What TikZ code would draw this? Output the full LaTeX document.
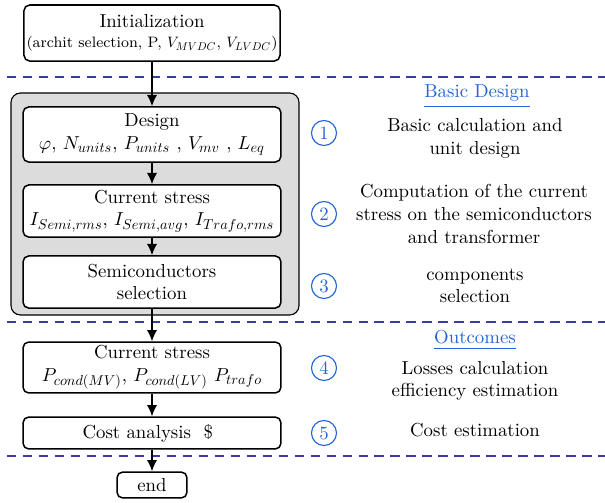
\documentclass[tikz,border=0pt]{standalone}
\usetikzlibrary{arrows.meta}
\DeclareFontFamily{OML}{cmmx}{\skewchar\font'177}
\DeclareFontShape{OML}{cmmx}{m}{it}{<->cmmi10}{}
\DeclareFontFamily{OT1}{cmrx}{\hyphenchar\font45 }
\DeclareFontShape{OT1}{cmrx}{m}{n}{<->cmr10}{}
\DeclareSymbolFont{letters}{OML}{cmmx}{m}{it}
\DeclareSymbolFont{operators}{OT1}{cmrx}{m}{n}
\DeclareMathSizes{10}{10}{7.6}{5.5}
\definecolor{dashblue}{RGB}{60,60,160}
\definecolor{tblue}{RGB}{35,100,215}
\definecolor{panel}{RGB}{220,220,220}
\begin{document}
\begin{tikzpicture}[x=0.532pt,y=-0.532pt,
  box/.style={draw, rounded corners=3pt, fill=white, align=center, line width=0.8pt,
              inner sep=0pt, minimum width=137.2pt},
  arr/.style={-{Latex[length=6pt,width=5.5pt]}, line width=0.8pt},
  sep/.style={dashblue, dash pattern=on 5pt off 3.5pt, line width=0.6pt},
  num/.style={circle, draw=tblue, text=tblue, line width=0.6pt, minimum size=13.3pt, inner sep=0pt},
  desc/.style={align=center, inner sep=0pt},
  head/.style={text=tblue, inner xsep=0pt, inner ysep=2.5pt},
  uline/.style={tblue, line width=0.6pt}]
\useasboundingbox (0,0) rectangle (605,502);
% separators
\coordinate (d1l) at (7,77);  \coordinate (d1r) at (605,77);
\coordinate (d2l) at (7,322); \coordinate (d2r) at (605,322);
\coordinate (d3l) at (7,456); \coordinate (d3r) at (605,456);
\draw[sep] (d1l) -- (d1r);
\draw[sep] (d2l) -- (d2r);
\draw[sep] (d3l) -- (d3r);
% grey panel
\node[draw, fill=panel, rounded corners=5pt, line width=0.6pt, minimum width=153.2pt,
      minimum height=118.1pt] (panel) at (155,204) {};
% boxes
\node[box, minimum width=136.2pt, minimum height=29.8pt] (init) at (152,33)
  {Initialization\\[-1pt] {\fontsize{8pt}{9.5pt}\selectfont (archit selection, P, $V_{MVDC}$, $V_{LVDC}$)}};
\node[box, minimum height=29.3pt] (design) at (152,134.5)
  {Design\\ $\varphi$, $N_{units}$, $P_{units}$ , $V_{mv}$ , $L_{eq}$\hspace{4.5pt}};
\node[box, minimum height=27.7pt] (stress) at (152,211)
  {Current stress\\ $I_{Semi,rms}$, $I_{Semi,avg}$, $I_{Trafo,rms}$};
\node[box, minimum height=27.7pt] (semi) at (152,282)
  {Semiconductors\\ selection};
\node[box, minimum height=27.1pt] (loss) at (152,367.5)
  {Current stress\\ $P_{cond(MV)}$, $P_{cond(LV)}$ $P_{trafo}$\hspace{11pt}};
\node[box, minimum height=17pt] (cost) at (152,433)
  {Cost analysis \ \$\hspace{4.5pt}};
\node[box, minimum width=37.2pt, minimum height=13.8pt] (end) at (152,485) {end};
% arrows
\draw[arr] (init) -- (design);
\draw[arr] (design) -- (stress);
\draw[arr] (stress) -- (semi);
\draw[arr] (semi) -- (loss);
\draw[arr] (loss) -- (cost);
\draw[arr] (cost) -- (end);
% right column
\node[head] (hbd) at (477,93) {Basic Design};
\draw[uline] (hbd.south west) -- (hbd.south east);
\node[num] (n1) at (324,133) {1};
\node[num] (n2) at (324,214) {2};
\node[num] (n3) at (324,286) {3};
\node[desc] (t1) at (475,138.5) {Basic calculation and\\ unit design};
\node[desc] (t2) at (474,214) {Computation of the current\\ stress on the semiconductors\\ and transformer};
\node[desc] (t3) at (475,286) {components\\ selection};
\node[head] (hout) at (475,337) {Outcomes};
\draw[uline] (hout.south west) -- (hout.south east);
\node[num] (n4) at (324,368) {4};
\node[num] (n5) at (324,433) {5};
\node[desc] (t4) at (475,381) {Losses calculation\\ efficiency estimation};
\node[desc] (t5) at (475,430) {Cost estimation};
\end{tikzpicture}
\end{document}
